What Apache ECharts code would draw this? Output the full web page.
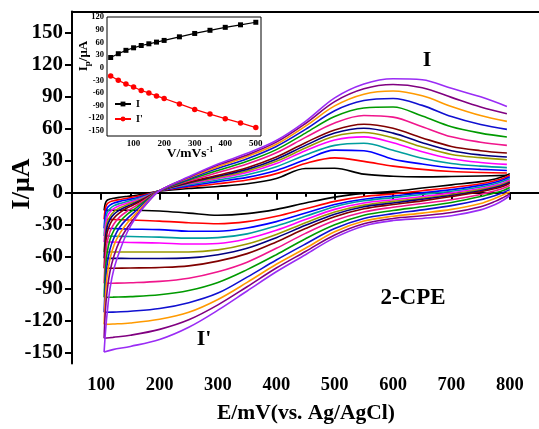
<!DOCTYPE html>
<html>
<head>
<meta charset="utf-8">
<script src="https://cdn.jsdelivr.net/npm/echarts@6/dist/echarts.min.js"></script>
<style>
  html, body { margin: 0; padding: 0; background: #ffffff; }
  #chart { width: 539px; height: 429px; }
</style>
</head>
<body>
<div id="chart"></div>
<script>
// Scan rates (mV/s) of the fourteen voltammograms, slowest first
const scanRates = [25, 50, 75, 100, 125, 150, 175, 200, 250, 300, 350, 400, 450, 500];
// Peak currents (uA) plotted in the inset
const anodicPeak = [24, 33, 41, 47, 52.5, 56.5, 60.5, 64.5, 73, 81, 88.5, 95.5, 101.5, 107.5];
const cathodicPeak = [-20, -30, -39, -46, -54, -60, -67, -73, -86, -99, -110, -121, -131, -142];

// Potentials (mV) sampled along the anodic (forward) and cathodic (reverse) sweeps
const forwardPotential = [105, 107, 110, 115, 122, 132, 145, 160, 180, 200, 250, 300, 350, 400, 450, 500, 550, 600, 650, 700, 750, 795];
const reversePotential = [800, 790, 775, 750, 700, 650, 600, 550, 500, 450, 400, 350, 300, 250, 200, 150, 120, 105];

// Currents (uA) on the forward sweep, one list per scan rate
const fwd25  = [-16.4, -10, -7, -5.8, -5, -4.2, -3.3, -2.2, -0.5, 1.7, 4, 6, 8.5, 13.5, 22.8, 23, 17.5, 15.5, 15, 15.3, 15.8, 16.4];
const fwd50  = [-24.8, -15, -10.5, -8.5, -7.3, -6.2, -5, -3.5, -1.2, 2, 5.5, 8.5, 12, 18, 27.5, 32.8, 29.5, 25, 22, 20, 19, 18.6];
const fwd75  = [-33.3, -21, -14.5, -11.5, -9.5, -8, -6.5, -4.8, -1.8, 2, 6.5, 10.5, 14.5, 21, 31, 40, 39.5, 31.5, 27, 23.5, 22, 21];
const fwd100 = [-40.5, -27, -19, -15, -12, -10, -8, -5.8, -2.3, 2, 7.5, 12, 17, 24.5, 35.5, 44.5, 46.5, 40, 32.5, 27.5, 25, 23.6];
const fwd125 = [-46.1, -32, -23, -18, -14.5, -11.8, -9.5, -7, -2.8, 2, 8.5, 13.5, 19, 27.5, 39.5, 49.5, 52.5, 47, 38.5, 32, 28.5, 26.7];
const fwd150 = [-55.5, -39, -28, -22, -17.5, -14, -11, -8, -3.2, 2, 9, 14.5, 20.5, 29.5, 42, 53, 56.5, 51.5, 43, 36, 33, 31];
const fwd175 = [-61.4, -44, -32, -25, -20, -16, -12.5, -9, -3.6, 2, 9.5, 15.5, 22, 31.5, 44.5, 56, 60.5, 56, 47, 39.5, 35.5, 33.6];
const fwd200 = [-70.8, -52, -38, -29.5, -23.5, -18.5, -14, -10, -4, 2, 10, 16.5, 23.5, 33.5, 47, 59, 64.3, 60.5, 51.5, 43.5, 39.5, 37.3];
const fwd250 = [-84.8, -63, -47, -36.5, -29, -22.5, -17, -12, -4.8, 2, 11, 19, 27, 37.5, 52, 65.5, 72.5, 71, 62, 52.5, 47.5, 44.5];
const fwd300 = [-98, -75, -57, -44, -35, -27, -20, -14, -5.6, 2, 12, 21, 29.5, 40.5, 56, 71.5, 79.5, 80.5, 72, 62, 56, 52.3];
const fwd350 = [-112, -88, -68, -53, -42, -32, -24, -16.5, -6.5, 2, 13, 23, 32, 43.5, 59.5, 77, 86.5, 88.5, 82, 71.5, 64, 59.5];
const fwd400 = [-123.3, -99, -79, -62, -49, -38, -28, -19, -7.5, 2, 14, 24.5, 34, 45.5, 62.5, 81.5, 92.5, 95.5, 91, 81, 72.5, 67];
const fwd450 = [-136.4, -112, -93, -74, -59, -44.5, -32.5, -21.5, -8.7, 2, 14.5, 26, 35.5, 47.5, 65, 85.5, 97.5, 101.5, 98.5, 89.5, 80.5, 74.2];
const fwd500 = [-149.3, -133, -114, -90, -71, -54, -36.5, -22.7, -8.5, 2, 15, 27, 37, 49, 67, 89, 102, 107, 106, 98, 90, 81];

// Currents (uA) on the reverse sweep, one list per scan rate
const rev25  = [18, 15.5, 13, 10.5, 7.5, 4.5, 1.5, -0.5, -4, -9.5, -15.5, -19.5, -21, -19, -17, -16.3, -16.3, -16.4];
const rev50  = [16.5, 14, 11.5, 8.5, 5, 2, -1, -3.5, -8, -15, -22, -27, -29, -28, -26.5, -25.5, -25, -24.8];
const rev75  = [15, 12.5, 10, 7, 3, 0, -3, -6, -11, -19, -27, -33, -36, -36, -34.5, -34, -33.5, -33.3];
const rev100 = [13.5, 11, 8.5, 5.5, 1.5, -1.5, -4.5, -7.5, -13, -22, -31, -38.5, -42, -42.5, -41.5, -41, -40.7, -40.5];
const rev125 = [12, 9.5, 7, 4, 0, -3.5, -6.5, -9.5, -15.5, -25, -35, -43, -47.5, -48, -47, -46.5, -46.2, -46.1];
const rev150 = [11, 8.5, 6, 3, -1.5, -5, -8, -11.5, -18, -28, -39, -48, -53.5, -55.5, -55.5, -55.5, -55.5, -55.5];
const rev175 = [10, 7.5, 5, 2, -2.5, -6, -9.5, -13, -20, -30.5, -42, -52, -58, -61, -61.5, -61.5, -61.4, -61.4];
const rev200 = [9, 6.5, 4, 1, -3.5, -7.5, -11, -15, -22.5, -33.5, -46, -57, -64, -68.5, -70, -70.5, -70.7, -70.8];
const rev250 = [7, 4.5, 2, -1.5, -6.5, -10, -13.5, -18, -26, -38, -52, -65, -74, -80, -83, -84.3, -84.7, -84.8];
const rev300 = [5, 2.5, 0, -3.5, -9, -13, -16.5, -21, -30, -43, -58, -72, -84, -91.5, -95.5, -97.3, -97.8, -98];
const rev350 = [3, 0.5, -2.5, -6.5, -12, -16, -19.5, -24, -33.5, -48, -63, -79, -94, -103, -108.5, -111, -111.8, -112];
const rev400 = [1, -1.5, -5, -10, -15.5, -19, -22, -26.5, -36.5, -52, -67, -84, -100, -112, -118.5, -122, -123, -123.3];
const rev450 = [-1, -4, -8, -13, -18.5, -21.5, -24, -29, -39.5, -55, -70.5, -88, -105, -119, -128, -133.5, -135.5, -136.4];
const rev500 = [-2.5, -6.5, -11, -16, -21.5, -24, -26, -31, -42, -58, -74, -92, -110, -126, -137.5, -144, -147, -149.3];

const forwardSweeps = [fwd25, fwd50, fwd75, fwd100, fwd125, fwd150, fwd175, fwd200, fwd250, fwd300, fwd350, fwd400, fwd450, fwd500];
const reverseSweeps = [rev25, rev50, rev75, rev100, rev125, rev150, rev175, rev200, rev250, rev300, rev350, rev400, rev450, rev500];

// Axis tick values
const mainXLabels = [100, 200, 300, 400, 500, 600, 700, 800];
const mainXMinor = [150, 250, 350, 450, 550, 650, 750];
const mainYLabels = [-150, -120, -90, -60, -30, 0, 30, 60, 90, 120, 150];
const mainYMinor = [-135, -105, -75, -45, -15, 15, 45, 75, 105, 135, 165];
const insetXLabels = [100, 200, 300, 400, 500];
const insetXTicks = [50, 100, 150, 200, 250, 300, 350, 400, 450, 500];
const insetYLabels = [-150, -120, -90, -60, -30, 0, 30, 60, 90, 120];

// Trace colours, slowest scan first
const traceColors = ['#000000', '#ff0000', '#0000ff', '#009e9e', '#ff00ff', '#9a9a00', '#000080',
                     '#800000', '#f0168c', '#009a00', '#1010d0', '#ff9a00', '#800080', '#9a2cf5'];

const SERIF = '"Liberation Serif", "Times New Roman", serif';

const pair = (xs, ys) => xs.map((x, i) => [x, ys[i]]);

const series = [];
forwardSweeps.forEach((fwd, k) => {
  const common = {
    type: 'line', xAxisIndex: 0, yAxisIndex: 0, showSymbol: false, symbol: 'none',
    smooth: 0.35, lineStyle: { width: 1.6, color: traceColors[k] }, itemStyle: { color: traceColors[k] },
    silent: true, z: 2
  };
  series.push(Object.assign({ name: 'rev' + scanRates[k], data: pair(reversePotential, reverseSweeps[k]) }, common));
  series.push(Object.assign({ name: 'fwd' + scanRates[k], data: pair(forwardPotential, fwd) }, common));
});

series.push({
  name: 'I', type: 'line', xAxisIndex: 3, yAxisIndex: 2, data: pair(scanRates, anodicPeak),
  symbol: 'rect', symbolSize: 5, showSymbol: true, lineStyle: { width: 1.2, color: '#000' },
  itemStyle: { color: '#000' }, z: 10
});
series.push({
  name: "I'", type: 'line', xAxisIndex: 3, yAxisIndex: 2, data: pair(scanRates, cathodicPeak),
  symbol: 'circle', symbolSize: 5.5, showSymbol: true, lineStyle: { width: 1.2, color: '#ff0000' },
  itemStyle: { color: '#ff0000' }, z: 10
});

const boldLabel = (size) => ({ color: '#000', fontFamily: SERIF, fontWeight: 'bold', fontSize: size });
const centered = { align: 'center', verticalAlign: 'middle', textAlign: 'center', textVerticalAlign: 'middle', fill: '#000' };

const option = {
  animation: false,
  backgroundColor: '#ffffff',
  grid: [
    { left: 72, top: 11.5, width: 480, height: 352, containLabel: false },
    { left: 107, top: 17, width: 154, height: 119, show: true, borderColor: '#000', borderWidth: 1,
      backgroundColor: '#ffffff', z: 5 }
  ],
  xAxis: [
    { gridIndex: 0, type: 'value', min: 50, max: 850, position: 'bottom',
      axisLine: { lineStyle: { color: '#000', width: 2 } },
      axisTick: { customValues: mainXLabels, length: 7, lineStyle: { color: '#000', width: 2 } },
      axisLabel: Object.assign({ customValues: mainXLabels, margin: 12 }, boldLabel(18.5)),
      splitLine: { show: false } },
    { gridIndex: 0, type: 'value', min: 50, max: 850, position: 'bottom',
      axisLine: { show: false },
      axisTick: { customValues: mainXMinor, length: 4, lineStyle: { color: '#000', width: 2 } },
      axisLabel: { show: false }, splitLine: { show: false } },
    { gridIndex: 0, type: 'value', min: 50, max: 850, position: 'top',
      axisLine: { lineStyle: { color: '#000', width: 2 } },
      axisTick: { show: false }, axisLabel: { show: false }, splitLine: { show: false } },
    { gridIndex: 1, type: 'value', min: 13, max: 517, position: 'bottom',
      axisLine: { show: false },
      axisTick: { customValues: insetXTicks, inside: true, length: 3, lineStyle: { color: '#000', width: 1 } },
      axisLabel: Object.assign({ customValues: insetXLabels, margin: 3 }, boldLabel(9)),
      splitLine: { show: false } }
  ],
  yAxis: [
    { gridIndex: 0, type: 'value', min: -160, max: 170,
      axisLine: { show: true, lineStyle: { color: '#000', width: 2 } },
      axisTick: { show: true, customValues: mainYLabels, length: 7, lineStyle: { color: '#000', width: 2 } },
      axisLabel: Object.assign({ customValues: mainYLabels, margin: 9 }, boldLabel(21)),
      splitLine: { show: false } },
    { gridIndex: 0, type: 'value', min: -160, max: 170,
      axisLine: { show: false },
      axisTick: { show: true, customValues: mainYMinor, length: 4, lineStyle: { color: '#000', width: 2 } },
      axisLabel: { show: false }, splitLine: { show: false } },
    { gridIndex: 1, type: 'value', min: -162, max: 120,
      axisLine: { show: false },
      axisTick: { show: true, customValues: insetYLabels, inside: true, length: 3, lineStyle: { color: '#000', width: 1 } },
      axisLabel: Object.assign({ customValues: insetYLabels, margin: 3 }, boldLabel(8.5)),
      splitLine: { show: false } }
  ],
  legend: {
    data: ['I', "I'"], orient: 'vertical', left: 114, top: 99, itemWidth: 16, itemHeight: 6, itemGap: 5,
    textStyle: boldLabel(10), padding: 0, z: 20
  },
  series: series,
  graphic: [
    { type: 'text', x: 22, y: 184, rotation: Math.PI / 2, z: 50,
      style: Object.assign({ text: 'I/\u03bcA', font: 'bold 26px ' + SERIF }, centered) },
    { type: 'text', x: 306, y: 413, z: 50,
      style: Object.assign({ text: 'E/mV(vs. Ag/AgCl)', font: 'bold 21.5px ' + SERIF }, centered) },
    { type: 'text', x: 427, y: 60, z: 50,
      style: Object.assign({ text: 'I', font: 'bold 22px ' + SERIF }, centered) },
    { type: 'text', x: 204, y: 339, z: 50,
      style: Object.assign({ text: "I'", font: 'bold 22px ' + SERIF }, centered) },
    { type: 'text', x: 413, y: 298, z: 50,
      style: Object.assign({ text: '2-CPE', font: 'bold 23px ' + SERIF }, centered) },
    { type: 'text', x: 84, y: 56, rotation: Math.PI / 2, z: 50,
      style: Object.assign({ text: '{a|I}{s|p}{a|/\u03bcA}',
               rich: { a: { fontFamily: SERIF, fontWeight: 'bold', fontSize: 13, lineHeight: 16, fill: '#000' },
                       s: { fontFamily: SERIF, fontWeight: 'bold', fontSize: 9, lineHeight: 16, padding: [7, 0, 0, 0], fill: '#000' } } }, centered) },
    { type: 'text', x: 190, y: 154, z: 50,
      style: Object.assign({ text: '{a|V/mVs}{s|-1}',
               rich: { a: { fontFamily: SERIF, fontWeight: 'bold', fontSize: 13.5, lineHeight: 16, fill: '#000' },
                       s: { fontFamily: SERIF, fontWeight: 'bold', fontSize: 8, lineHeight: 16, padding: [0, 0, 8, 0], fill: '#000' } } }, centered) }
  ]
};

const chart = echarts.init(document.getElementById('chart'), null, { renderer: 'canvas' });
chart.setOption(option);
</script>
</body>
</html>
